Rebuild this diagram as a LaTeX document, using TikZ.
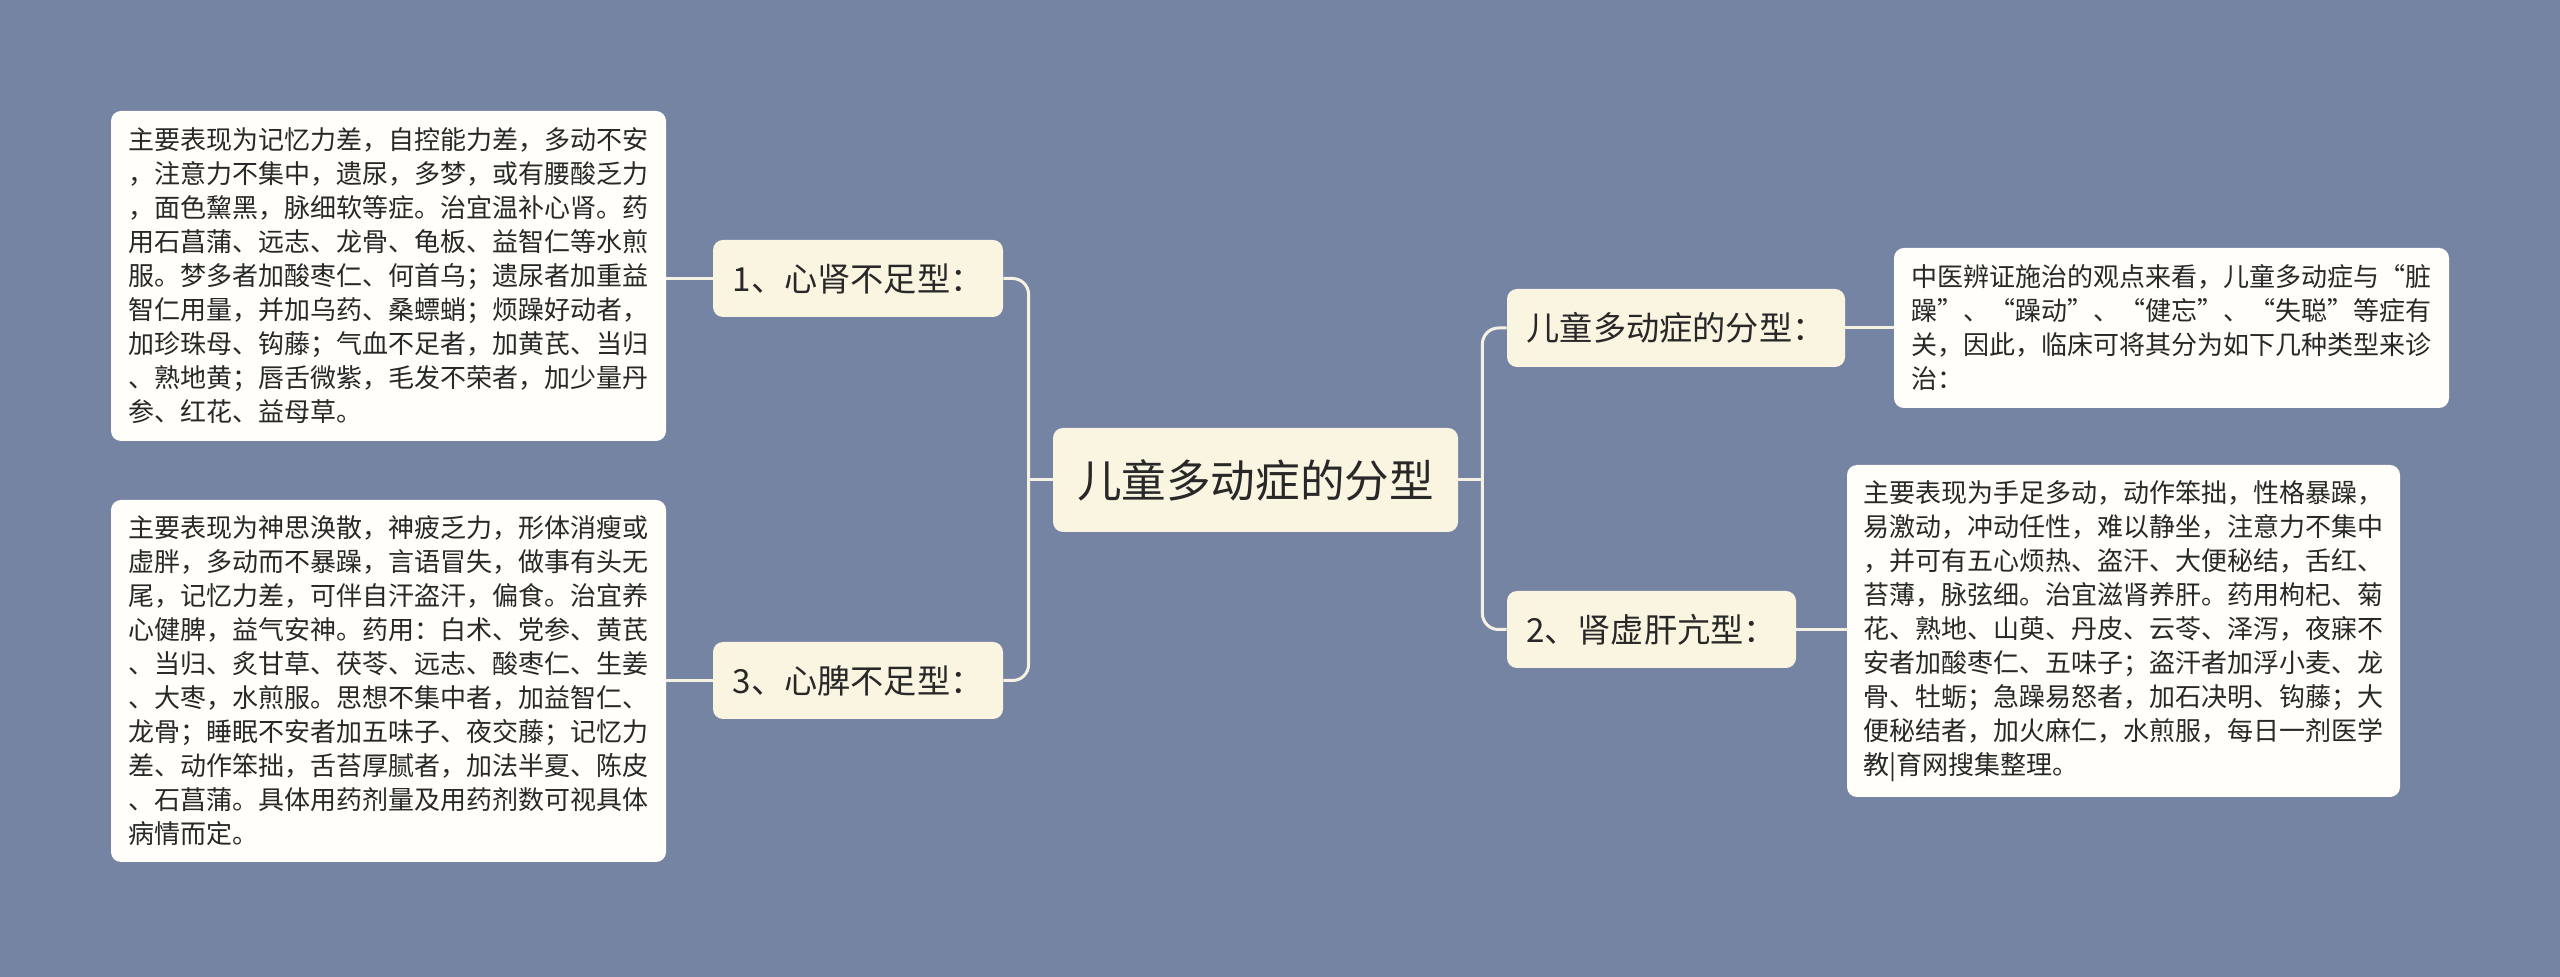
\documentclass[tikz,border=0pt]{standalone}
\usepackage{fontspec}
\setmainfont{Noto Sans CJK SC}
\usetikzlibrary{calc}
\definecolor{bgc}{RGB}{118,132,164}
\definecolor{nodefill}{RGB}{250,245,225}
\definecolor{boxfill}{RGB}{255,254,248}
\definecolor{linec}{RGB}{245,242,228}
\definecolor{txt}{RGB}{40,40,40}
\tikzset{
  base/.style={rounded corners=5pt, inner sep=0pt, text=txt},
  centerbox/.style={base, fill=nodefill, minimum width=202.5pt, minimum height=52pt, font=\fontsize{22.3}{26}\selectfont},
  branchbox/.style={base, fill=nodefill, minimum height=38.5pt, font=\fontsize{16.6}{19}\selectfont},
  textbox/.style={base, fill=boxfill, align=left, font=\fontsize{13}{17}\selectfont},
  conn/.style={draw=linec, line width=1.5pt},
}
\begin{document}
\begin{tikzpicture}[x=0.5pt,y=-0.5pt]
\useasboundingbox (0,0) rectangle (2560,977);
\fill[bgc] (0,0) rectangle (2560,977);

\node[centerbox] (c) at (1255.5,480) {儿童多动症的分型};

\node[branchbox, minimum width=145pt] (b1) at (858,278.5) {1、心肾不足型：};
\node[branchbox, minimum width=145pt] (b3) at (858,680.5) {3、心脾不足型：};
\node[branchbox, minimum width=169pt, minimum height=39pt] (r1) at (1676,328) {儿童多动症的分型：};
\node[branchbox, minimum width=144.5pt] (r2) at (1651.5,629.5) {2、肾虚肝亢型：};

\node[textbox, minimum width=277.5pt, minimum height=165pt] (t1) at (388.5,276) {主要表现为记忆力差，自控能力差，多动不安\\，注意力不集中，遗尿，多梦，或有腰酸乏力\\，面色黧黑，脉细软等症。治宜温补心肾。药\\用石菖蒲、远志、龙骨、龟板、益智仁等水煎\\服。梦多者加酸枣仁、何首乌；遗尿者加重益\\智仁用量，并加乌药、桑螵蛸；烦躁好动者，\\加珍珠母、钩藤；气血不足者，加黄芪、当归\\、熟地黄；唇舌微紫，毛发不荣者，加少量丹\\参、红花、益母草。};

\node[textbox, minimum width=277.5pt, minimum height=181pt] (t3) at (388.5,681) {主要表现为神思涣散，神疲乏力，形体消瘦或\\虚胖，多动而不暴躁，言语冒失，做事有头无\\尾，记忆力差，可伴自汗盗汗，偏食。治宜养\\心健脾，益气安神。药用：白术、党参、黄芪\\、当归、炙甘草、茯苓、远志、酸枣仁、生姜\\、大枣，水煎服。思想不集中者，加益智仁、\\龙骨；睡眠不安者加五味子、夜交藤；记忆力\\差、动作笨拙，舌苔厚腻者，加法半夏、陈皮\\、石菖蒲。具体用药剂量及用药剂数可视具体\\病情而定。};

\node[textbox, minimum width=277.5pt, minimum height=80pt] (tr1) at (2171.5,328) {中医辨证施治的观点来看，儿童多动症与“脏\\躁”、“躁动”、“健忘”、“失聪”等症有\\关，因此，临床可将其分为如下几种类型来诊\\治：};

\node[textbox, minimum width=276.5pt, minimum height=166pt] (tr2) at (2123.5,631) {主要表现为手足多动，动作笨拙，性格暴躁，\\易激动，冲动任性，难以静坐，注意力不集中\\，并可有五心烦热、盗汗、大便秘结，舌红、\\苔薄，脉弦细。治宜滋肾养肝。药用枸杞、菊\\花、熟地、山萸、丹皮、云苓、泽泻，夜寐不\\安者加酸枣仁、五味子；盗汗者加浮小麦、龙\\骨、牡蛎；急躁易怒者，加石决明、钩藤；大\\便秘结者，加火麻仁，水煎服，每日一剂医学\\教|育网搜集整理。};

% connectors center -> branches
\draw[conn] (c.west) -- ++(-24,0) coordinate (jl);
\draw[conn, rounded corners=8pt] (jl) |- (b1.east);
\draw[conn, rounded corners=8pt] (jl) |- (b3.east);
\draw[conn] (c.east) -- ++(24,0) coordinate (jr);
\draw[conn, rounded corners=8pt] (jr) |- (r1.west);
\draw[conn, rounded corners=8pt] (jr) |- (r2.west);

% branches -> text boxes
\draw[conn] (b1.west) -- (b1.west -| t1.east);
\draw[conn] (b3.west) -- (b3.west -| t3.east);
\draw[conn] (r1.east) -- (r1.east -| tr1.west);
\draw[conn] (r2.east) -- (r2.east -| tr2.west);
\end{tikzpicture}
\end{document}
